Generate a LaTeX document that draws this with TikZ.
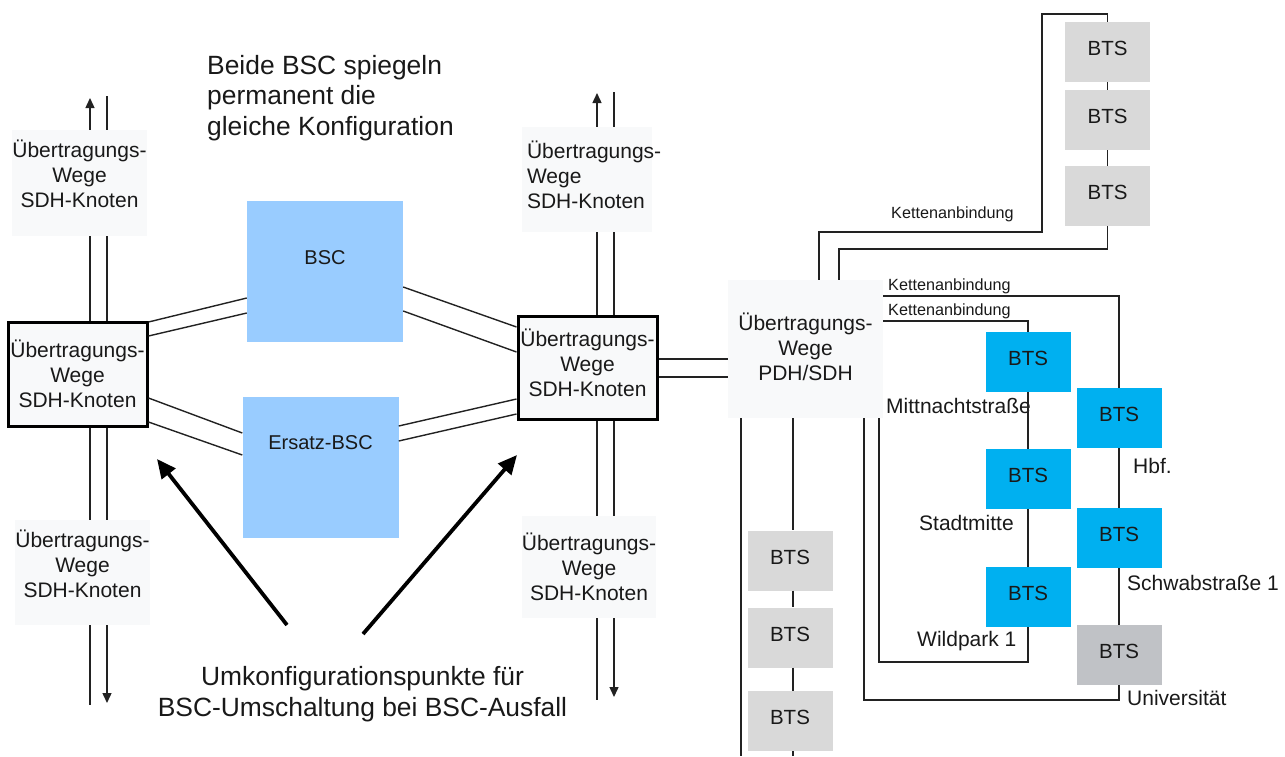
\documentclass[tikz,border=0pt]{standalone}
\usepackage{fontspec}
\setmainfont{Liberation Sans}
\usetikzlibrary{arrows.meta}
\definecolor{lblfill}{RGB}{248,249,250}
\definecolor{bscblue}{RGB}{153,204,255}
\definecolor{btsblue}{RGB}{0,176,240}
\definecolor{btsgray}{RGB}{217,217,217}
\definecolor{unigray}{RGB}{192,194,198}
\definecolor{linec}{RGB}{34,34,34}
\definecolor{txtc}{RGB}{25,25,25}
\tikzset{
  wire/.style={draw=linec, line width=1.4pt},
  upar/.style={wire, -{Triangle[length=10pt,width=9pt]}},
  bigar/.style={draw=black, line width=3.8pt, -{Triangle[length=19pt,width=17pt]}},
  lblbox/.style={fill=lblfill, inner sep=0pt, align=center, text=txtc,
    font=\fontsize{21}{25}\selectfont},
  sdhbox/.style={lblbox, draw=black, line width=3pt},
  bscbox/.style={fill=bscblue, inner sep=0pt, text=txtc,
    font=\fontsize{20}{24}\selectfont, minimum width=156pt, minimum height=141pt},
  btsbox/.style={inner sep=0pt, text=txtc, minimum width=85pt, minimum height=60pt,
    text depth=7pt, font=\fontsize{20.5}{24}\selectfont},
  gbts/.style={btsbox, fill=btsgray},
  bbts/.style={btsbox, fill=btsblue},
  ubts/.style={btsbox, fill=unigray},
  place/.style={anchor=west, inner sep=0pt, text=txtc, font=\fontsize{21}{25}\selectfont},
  chainlbl/.style={anchor=west, inner sep=0pt, text=txtc, font=\fontsize{16.2}{19}\selectfont},
  bigtxt/.style={inner sep=0pt, text=txtc, font=\fontsize{26.4}{30.5}\selectfont}
}
\begin{document}
\begin{tikzpicture}[x=1pt,y=-1pt]
\useasboundingbox (0,0) rectangle (1285,756);

% ---------- left column ----------
\node[lblbox, minimum width=130pt, minimum height=106pt, text depth=19pt] (ltop) at (79.5,183)
  {Übertragungs-\\Wege\\SDH-Knoten};
\node[sdhbox, minimum width=139pt, minimum height=104pt] (lsdh) at (77.5,374)
  {Übertragungs-\\Wege\\SDH-Knoten};
\node[lblbox, minimum width=129pt, minimum height=105pt, text depth=18pt] (lbot) at (82.5,572.5)
  {Übertragungs-\\Wege\\SDH-Knoten};

% ---------- middle column ----------
\node[lblbox, align=left, text width=120pt, inner xsep=5pt, minimum height=105pt, text depth=60pt] (mtop) at (587,179.5)
  {\mbox{Übertragungs-}\\Wege\\SDH-Knoten};
\node[sdhbox, minimum width=139pt, minimum height=103pt, text depth=10pt] (msdh) at (587.5,367.5)
  {Übertragungs-\\Wege\\SDH-Knoten};
\node[lblbox, minimum width=130pt, minimum height=102pt] (mbot) at (589,567)
  {Übertragungs-\\Wege\\SDH-Knoten};

% ---------- BSC ----------
\node[bscbox, text depth=27pt] (bsc) at (325,271.5) {BSC};
\node[bscbox, text depth=49pt] (ebsc) at (320.5,467.5) {Ersatz-BSC};

% ---------- PDH/SDH ----------
\node[lblbox, minimum width=155pt, minimum height=138pt, text depth=4pt] (pdh) at (805.5,349)
  {Übertragungs-\\Wege\\PDH/SDH};

% ---------- BTS ----------
\node[gbts] (t1) at (1107.5,52) {BTS};
\node[gbts] (t2) at (1107.5,120) {BTS};
\node[gbts] (t3) at (1107.5,196) {BTS};

\node[bbts] (mitt) at (1028,362) {BTS};
\node[bbts] (stadt) at (1028,479) {BTS};
\node[bbts] (wild) at (1028,597) {BTS};
\node[bbts] (hbf) at (1119,418) {BTS};
\node[bbts] (schwab) at (1119,538) {BTS};
\node[ubts] (uni) at (1119,655) {BTS};

\node[gbts] (ga) at (790,560.5) {BTS};
\node[gbts] (gb) at (790,637.5) {BTS};
\node[gbts] (gc) at (790,721) {BTS};

% ---------- labels ----------
\node[bigtxt, anchor=west, align=left] (beide) at (207,98)
  {Beide BSC spiegeln\\permanent die\\gleiche Konfiguration};
\node[bigtxt, align=center] (umk) at (362.5,694)
  {Umkonfigurationspunkte für\\BSC-Umschaltung bei BSC-Ausfall};

\node[chainlbl] (k1) at (891,214) {Kettenanbindung};
\node[chainlbl] (k2) at (888,286) {Kettenanbindung};
\node[chainlbl] (k3) at (888,311) {Kettenanbindung};

\node[place] (pm) at (886,406) {Mittnachtstraße};
\node[place] (ph) at (1133,466) {Hbf.};
\node[place] (ps) at (919,523) {Stadtmitte};
\node[place] (psw) at (1127,583) {Schwabstraße 1};
\node[place] (pw) at (917,641) {Wildpark 1};
\node[place] (pu) at (1127,698) {Universität};

% ---------- coordinates ----------
\coordinate (xA) at (90,0);
\coordinate (xB) at (107,0);
\coordinate (xC) at (597,0);
\coordinate (xD) at (614,0);
\coordinate (xE) at (819,0);
\coordinate (xF) at (839,0);
\coordinate (xG) at (879,0);
\coordinate (xH) at (864,0);
\coordinate (xI) at (741,0);
\coordinate (xJ) at (793,0);

\coordinate (lAup) at (90,98);
\coordinate (lBtop) at (107,96);
\coordinate (lAbot) at (90,705);
\coordinate (lBdn) at (107,703);
\coordinate (mCup) at (597,93);
\coordinate (mDtop) at (614,92);
\coordinate (mCbot) at (597,700);
\coordinate (mDdn) at (614,697);

\coordinate (kA) at (1042,232);
\coordinate (kB) at (1107.5,14);
\coordinate (kC) at (1107.5,249);
\coordinate (kD) at (1028,662);
\coordinate (kE) at (1119,700);
\coordinate (kF) at (741,756);
\coordinate (kG) at (793,756);

% ---------- left column wires ----------
\draw[upar] (ltop.north -| xA) -- (lAup);
\draw[wire] (ltop.north -| xB) -- (lBtop);
\draw[wire] (ltop.south -| xA) -- (lsdh.north -| xA);
\draw[wire] (ltop.south -| xB) -- (lsdh.north -| xB);
\draw[wire] (lsdh.south -| xA) -- (lbot.north -| xA);
\draw[wire] (lsdh.south -| xB) -- (lbot.north -| xB);
\draw[wire] (lbot.south -| xA) -- (lAbot);
\draw[upar] (lbot.south -| xB) -- (lBdn);

% ---------- middle column wires ----------
\draw[upar] (mtop.north -| xC) -- (mCup);
\draw[wire] (mtop.north -| xD) -- (mDtop);
\draw[wire] (mtop.south -| xC) -- (msdh.north -| xC);
\draw[wire] (mtop.south -| xD) -- (msdh.north -| xD);
\draw[wire] (msdh.south -| xC) -- (mbot.north -| xC);
\draw[wire] (msdh.south -| xD) -- (mbot.north -| xD);
\draw[wire] (mbot.south -| xC) -- (mCbot);
\draw[upar] (mbot.south -| xD) -- (mDdn);

% ---------- BSC links ----------
\draw[wire] ([yshift=52pt]lsdh.east) -- ([yshift=-26.5pt]bsc.west);
\draw[wire] ([yshift=38pt]lsdh.east) -- ([yshift=-41.5pt]bsc.west);
\draw[wire] ([yshift=-15.5pt]bsc.east) -- ([yshift=40.5pt]msdh.west);
\draw[wire] ([yshift=-39.5pt]bsc.east) -- ([yshift=15.5pt]msdh.west);
\draw[wire] ([yshift=-24pt]lsdh.east) -- ([yshift=34.5pt]ebsc.west);
\draw[wire] ([yshift=-48pt]lsdh.east) -- ([yshift=12.5pt]ebsc.west);
\draw[wire] ([yshift=41.5pt]ebsc.east) -- ([yshift=-31.5pt]msdh.west);
\draw[wire] ([yshift=26.5pt]ebsc.east) -- ([yshift=-46.5pt]msdh.west);
\draw[wire] ([yshift=8.5pt]msdh.east) -- ([yshift=-10pt]pdh.west);
\draw[wire] ([yshift=-9.5pt]msdh.east) -- ([yshift=-28pt]pdh.west);

% ---------- PDH wiring ----------
\draw[wire] (pdh.north -| xE) |- (kA) |- (kB) -- (t1.north);
\draw[wire] (pdh.north -| xF) |- (kC) -- (t3.south);
\draw[wire] (t1.south) -- (t2.north);
\draw[wire] (t2.south) -- (t3.north);

\draw[wire] ([yshift=53pt]pdh.east) -| (hbf.north);
\draw[wire] ([yshift=28pt]pdh.east) -| (mitt.north);
\draw[wire] (mitt.south) -- (stadt.north);
\draw[wire] (stadt.south) -- (wild.north);
\draw[wire] (hbf.south) -- (schwab.north);
\draw[wire] (schwab.south) -- (uni.north);
\draw[wire] (pdh.south -| xG) |- (kD) -- (wild.south);
\draw[wire] (pdh.south -| xH) |- (kE) -- (uni.south);

\draw[wire] (pdh.south -| xI) -- (kF);
\draw[wire] (pdh.south -| xJ) -- (ga.north -| xJ);
\draw[wire] (ga.south -| xJ) -- (gb.north -| xJ);
\draw[wire] (gb.south -| xJ) -- (gc.north -| xJ);
\draw[wire] (gc.south -| xJ) -- (kG);

% ---------- reconfiguration arrows ----------
\coordinate (aT1) at (287,625);
\coordinate (aH1) at (157,459);
\coordinate (aT2) at (363,634);
\coordinate (aH2) at (517,455);
\draw[bigar] (aT1) -- (aH1);
\draw[bigar] (aT2) -- (aH2);
\end{tikzpicture}
\end{document}
